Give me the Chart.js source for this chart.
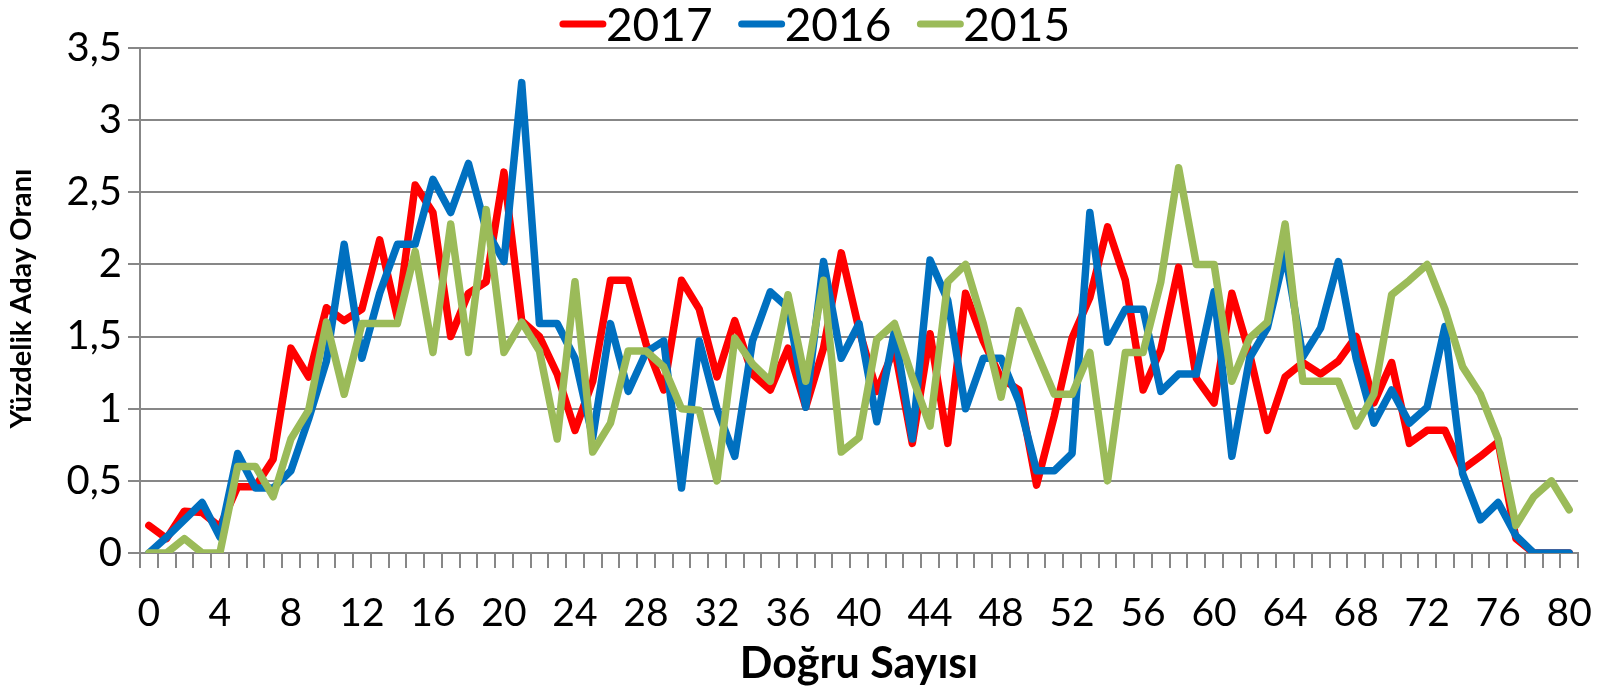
<!DOCTYPE html>
<html>
<head>
<meta charset="utf-8">
<script src="https://cdn.jsdelivr.net/npm/chart.js@4.4.1/dist/chart.umd.min.js"></script>
<style>
    html, body { margin: 0; padding: 0; background: #fff; }
</style>
</head>
<body>
<canvas id="chart" width="1614" height="690"></canvas>
<script>
const categories = Array.from({ length: 81 }, (_, i) => i);
const yTicks = [0, 0.5, 1, 1.5, 2, 2.5, 3, 3.5];
const seriesNames = ['2017', '2016', '2015'];

const values2017 = [
    0.19, 0.10, 0.29, 0.28, 0.18, 0.46, 0.46, 0.65, 1.42, 1.22,
    1.70, 1.61, 1.69, 2.17, 1.63, 2.55, 2.36, 1.50, 1.80, 1.88,
    2.64, 1.61, 1.50, 1.24, 0.85, 1.19, 1.89, 1.89, 1.45, 1.13,
    1.89, 1.69, 1.22, 1.61, 1.24, 1.13, 1.42, 1.01, 1.42, 2.08,
    1.55, 1.12, 1.42, 0.76, 1.52, 0.76, 1.80, 1.47, 1.21, 1.13,
    0.47, 0.95, 1.49, 1.77, 2.26, 1.89, 1.13, 1.41, 1.98, 1.21,
    1.04, 1.80, 1.38, 0.85, 1.22, 1.32, 1.24, 1.33, 1.50, 1.04,
    1.32, 0.76, 0.85, 0.85, 0.58, 0.67, 0.77, 0.10, 0, 0,
    0
];

const values2016 = [
    0, 0.11, 0.23, 0.35, 0.11, 0.69, 0.45, 0.45, 0.57, 0.93,
    1.33, 2.14, 1.35, 1.80, 2.14, 2.14, 2.59, 2.36, 2.70, 2.24,
    2.02, 3.26, 1.59, 1.59, 1.35, 0.80, 1.59, 1.12, 1.39, 1.47,
    0.45, 1.47, 1.00, 0.67, 1.47, 1.81, 1.70, 1.01, 2.02, 1.35,
    1.59, 0.91, 1.54, 0.79, 2.03, 1.75, 1.00, 1.35, 1.35, 1.05,
    0.57, 0.57, 0.69, 2.36, 1.46, 1.69, 1.69, 1.12, 1.24, 1.24,
    1.81, 0.67, 1.35, 1.56, 2.08, 1.36, 1.56, 2.02, 1.35, 0.90,
    1.13, 0.90, 1.01, 1.57, 0.55, 0.23, 0.35, 0.12, 0, 0,
    0
];

const values2015 = [
    0, 0, 0.10, 0, 0, 0.60, 0.60, 0.39, 0.79, 0.99,
    1.60, 1.10, 1.59, 1.59, 1.59, 2.09, 1.39, 2.28, 1.39, 2.38,
    1.39, 1.60, 1.40, 0.79, 1.88, 0.70, 0.90, 1.40, 1.40, 1.29,
    1.00, 0.99, 0.50, 1.49, 1.31, 1.19, 1.79, 1.19, 1.89, 0.70,
    0.80, 1.48, 1.59, 1.22, 0.88, 1.88, 2.00, 1.59, 1.08, 1.68,
    1.39, 1.10, 1.10, 1.39, 0.50, 1.39, 1.39, 1.88, 2.67, 2.00,
    2.00, 1.19, 1.49, 1.60, 2.28, 1.19, 1.19, 1.19, 0.88, 1.10,
    1.79, 1.89, 2.00, 1.69, 1.29, 1.10, 0.79, 0.19, 0.39, 0.50,
    0.30
];

const FONT = 'Lato, "Open Sans", sans-serif';
const GRID = '#878787';
const colors = ['#ff0000', '#0070c0', '#9bbb59'];

// legend drawn by hand so the text sits right after the line, like Excel
const topLegend = {
    id: 'topLegend',
    afterDraw(chart) {
        const ctx = chart.ctx;
        const lineW = 46, gap = 24, cy = 24;
        ctx.save();
        ctx.font = '46px ' + FONT;
        ctx.textBaseline = 'middle';
        const items = chart.data.datasets.map(ds => ({
            text: ds.label,
            color: ds.borderColor,
            w: ctx.measureText(ds.label).width
        }));
        const total = items.reduce((s, it) => s + lineW + 2 + it.w, 0) + gap * (items.length - 1);
        let x = 815 - total / 2;
        items.forEach(it => {
            ctx.strokeStyle = it.color;
            ctx.lineWidth = 7;
            ctx.lineCap = 'round';
            ctx.beginPath();
            ctx.moveTo(x + 4, cy);
            ctx.lineTo(x + lineW - 2, cy);
            ctx.stroke();
            ctx.fillStyle = '#000';
            ctx.fillText(it.text, x + lineW + 1, cy + 2);
            x += lineW + 2 + it.w + gap;
        });
        ctx.restore();
    }
};

// axis titles; the y title overlaps the tick labels in the original
const axisTitles = {
    id: 'axisTitles',
    afterDraw(chart) {
        const { ctx, chartArea } = chart;
        ctx.save();
        ctx.fillStyle = '#000';
        ctx.textAlign = 'center';
        ctx.textBaseline = 'middle';
        ctx.font = 'bold 43px ' + FONT;
        ctx.fillText('Doğru Sayısı', (chartArea.left + chartArea.right) / 2, 664);
        ctx.translate(22, (chartArea.top + chartArea.bottom) / 2 - 2);
        ctx.rotate(-Math.PI / 2);
        ctx.font = 'bold 29px ' + FONT;
        ctx.fillText('Yüzdelik Aday Oranı', 0, 0);
        ctx.restore();
    }
};

const allValues = [values2017, values2016, values2015];

new Chart(document.getElementById('chart').getContext('2d'), {
    type: 'line',
    data: {
        labels: categories,
        datasets: seriesNames.map((name, i) => ({
            label: name,
            data: allValues[i],
            borderColor: colors[i],
            backgroundColor: colors[i],
            borderWidth: 7.5,
            borderJoinStyle: 'round',
            borderCapStyle: 'round',
            pointRadius: 0,
            tension: 0,
            order: 3 - i
        }))
    },
    options: {
        responsive: false,
        animation: false,
        layout: { padding: { top: 48, right: 32, left: 0, bottom: 0 } },
        plugins: {
            legend: { display: false },
            tooltip: { enabled: false }
        },
        scales: {
            x: {
                type: 'category',
                offset: true,
                grid: {
                    offset: true,
                    drawOnChartArea: false,
                    tickLength: 15,
                    color: GRID,
                    lineWidth: 2
                },
                border: { color: GRID, width: 2 },
                ticks: {
                    autoSkip: false,
                    maxRotation: 0,
                    padding: 22,
                    color: '#000',
                    font: { family: FONT, size: 39 },
                    callback: (v, i) => (i % 4 === 0 ? String(categories[i]) : '')
                },
                afterFit: s => { s.height = 137; }
            },
            y: {
                min: 0,
                max: 3.5,
                afterBuildTicks: s => { s.ticks = yTicks.map(v => ({ value: v })); },
                grid: { color: GRID, lineWidth: 2, tickLength: 12 },
                border: { color: GRID, width: 2 },
                ticks: {
                    padding: 6,
                    color: '#000',
                    font: { family: FONT, size: 40 },
                    callback: v => String(v).replace('.', ',')
                },
                afterFit: s => { s.width = 140; }
            }
        }
    },
    plugins: [topLegend, axisTitles]
});
</script>
</body>
</html>
